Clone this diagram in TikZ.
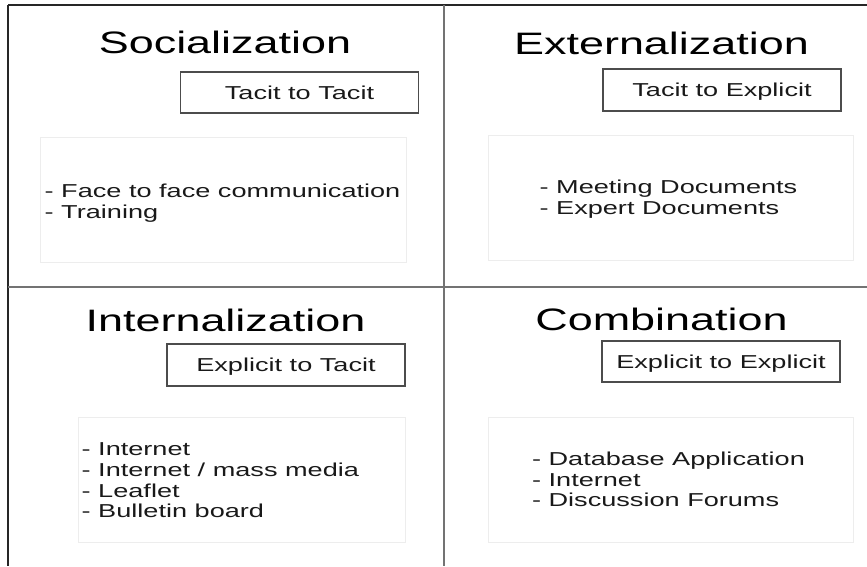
\documentclass[tikz,border=0pt]{standalone}
\usepackage{fontspec}
\setmainfont[FakeStretch=1.45]{Liberation Sans}
\usetikzlibrary{calc}

\begin{document}
\begin{tikzpicture}[x=1pt,y=1pt,yscale=-1,xscale=1,
  frameline/.style={draw=black!85,line width=1.6pt},
  divline/.style={draw=black!55,line width=2pt},
  title/.style={anchor=base,inner sep=0pt,font=\fontsize{31}{37}\selectfont},
  modebox/.style={draw=black!70,line width=1.2pt,minimum width=238pt,minimum height=41pt,inner sep=0pt,text depth=0pt,text=black!90,font=\fontsize{18.7}{20.7}\selectfont},
  listbox/.style={draw=black!7,line width=1pt,minimum width=365pt,minimum height=125pt,inner sep=0pt},
  listtext/.style={inner sep=0pt,align=left,text=black!90,font=\fontsize{18.7}{20.7}\selectfont}]
  \useasboundingbox (0,0) rectangle (867,566);

  %Frame and quadrant lines
  \coordinate (tl) at (8,5);
  \coordinate (tr) at (867,5);
  \coordinate (bl) at (8,566);
  \coordinate (ml) at (8,287);
  \coordinate (mr) at (867,287);
  \coordinate (mt) at (444,5);
  \coordinate (mb) at (444,566);
  \draw[frameline] (tl) -- (tr) ;
  \draw[frameline] (tl) -- (bl) ;
  \draw[divline] (ml) -- (mr) ;
  \draw[divline] (mt) -- (mb) ;

  %Socialization
  \node[title] (soc) at (225,53) {Socialization};
  \node[modebox] (socmode) at (299.5,92.5) {Tacit to Tacit};
  \node[listbox,minimum width=366pt] (soclist) at (223,199.5) {};
  \node[listtext,anchor=west] (socitems) at ($(soclist.west)+(5,4)$) {- Face to face communication\\- Training};

  %Externalization
  \node[title] (ext) at (661.5,54) {Externalization};
  \node[modebox,minimum height=42pt] (extmode) at (722,90) {Tacit to Explicit};
  \node[listbox] (extlist) at (670.5,197.5) {};
  \node[listtext] (extitems) at ($(extlist.center)+(-2,2)$) {- Meeting Documents\\- Expert Documents};

  %Internalization
  \node[title] (int) at (225.5,331) {Internalization};
  \node[modebox,minimum height=42pt] (intmode) at (286,365) {Explicit to Tacit};
  \node[listbox,minimum width=327pt] (intlist) at (241.5,479.5) {};
  \node[listtext,anchor=west] (intitems) at ($(intlist.west)+(4,1)$) {- Internet\\- Internet / mass media\\- Leaflet\\- Bulletin board};

  %Combination
  \node[title] (com) at (661.5,330) {Combination};
  \node[modebox] (commode) at (721,361.5) {Explicit to Explicit};
  \node[listbox] (comlist) at (670.5,479.5) {};
  \node[listtext] (comitems) at ($(comlist.center)+(-2,0)$) {- Database Application\\- Internet\\- Discussion Forums};

\end{tikzpicture}
\end{document}
